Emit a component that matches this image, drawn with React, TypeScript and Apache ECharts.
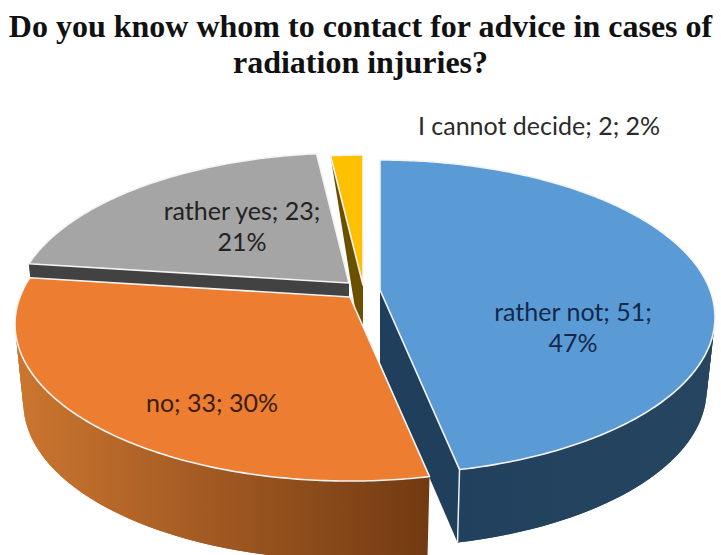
import React, { useEffect, useRef } from "react";
import * as echarts from "echarts";

const titleLines = ["Do you know whom to contact for advice in cases of", "radiation injuries?"];
const categories = ["rather not", "no", "rather yes", "I cannot decide"];
const values = [51, 33, 23, 2];

// Colours of each slice: top face and side walls.
const topColors = ["#5B9BD5", "#ED7D31", "#A5A5A5", "#FFC000"];
const wallColors = [
  ["#1F3F5C", "#254560"],
  ["#CC7630", "#723A12"],
  ["#424242", "#424242"],
  ["#6B5000", "#6B5000"],
];
const wallShadeSpan = [[380, 715], [15, 430], [0, 721], [0, 721]];
const labelColors = ["#13294A", "#3A1E0C", "#232323", "#2B2B2B"];

// Exploded apex of each slice, wall height and paint order (far slices first).
const apexes = [[380, 290], [350, 297], [349, 283], [363, 285]];
const wallDepths = [73, 79, 73, 73];
const paintOrder = [3, 4, 2, 1];
const labelAnchors = [[573, 326], [212, 402], [242, 225], [539, 125]];
const labelWrapped = [true, false, true, false];
const wallFromStart = [false, false, true, true];

// Perspective of the disc: A and B are its half-axes, K the foreshortening.
const A = 330;
const B = 152.4;
const K = 0.172;
const BASE_SHRINK = 0.975;
const FAR_DEPTH = 5;

const total = values.reduce((s, v) => s + v, 0);

function topPoint(apex: number[], theta: number) {
  const X = Math.sin(theta);
  const Y = -Math.cos(theta);
  const w = 1 - K * Y;
  return [apex[0] + (A * X) / w, apex[1] + (B * Y) / w, Y];
}

function depthAt(Y: number, full: number) {
  return FAR_DEPTH + (full - FAR_DEPTH) * Math.min(1, (Y + 1) / 0.8);
}

function basePoint(apex: number[], theta: number, full: number) {
  const p = topPoint(apex, theta);
  return [apex[0] + (p[0] - apex[0]) * BASE_SHRINK, p[1] + depthAt(p[2], full)];
}

function arcAngles(a0: number, a1: number, step: number) {
  const n = Math.max(4, Math.ceil((a1 - a0) / step));
  const out: number[] = [];
  for (let i = 0; i <= n; i++) out.push(a0 + ((a1 - a0) * i) / n);
  return out;
}

function renderSlice(params: any, api: any) {
  const i = params.dataIndex;
  const value = api.value(0);
  const before = values.slice(0, i).reduce((s, v) => s + v, 0);
  const a0 = (before / total) * Math.PI * 2;
  const a1 = a0 + (value / total) * Math.PI * 2;
  const apex = apexes[i];
  const full = wallDepths[i];
  const layer = paintOrder[i] * 10;
  const children: any[] = [];

  // Curved outer wall: overlapping facets so its silhouette stays tangent.
  const wallFill = new echarts.graphic.LinearGradient(
    wallShadeSpan[i][0], 0, wallShadeSpan[i][1], 0,
    [
      { offset: 0, color: wallColors[i][0] },
      { offset: 1, color: wallColors[i][1] },
    ],
    true,
  );
  const wallAngles = arcAngles(a0, a1, 0.03);
  for (let k = 0; k + 1 < wallAngles.length; k++) {
    const t0 = wallAngles[k];
    const t1 = wallAngles[Math.min(k + 2, wallAngles.length - 1)];
    children.push({
      type: "polygon",
      z2: layer,
      shape: {
        points: [
          topPoint(apex, t0).slice(0, 2),
          topPoint(apex, t1).slice(0, 2),
          basePoint(apex, t1, full),
          basePoint(apex, t0, full),
        ],
      },
      style: { fill: wallFill },
    });
  }

  // Flat wall along the cut edge that faces the viewer.
  const edgeAngle = wallFromStart[i] ? a0 : a1;
  if (i === 0 || wallFromStart[i]) {
    const outerTop = topPoint(apex, edgeAngle).slice(0, 2);
    const outerBase = basePoint(apex, edgeAngle, full);
    const apexBase = [apex[0], apex[1] + depthAt(0, full)];
    children.push({
      type: "polygon",
      z2: layer + 1,
      shape: { points: [apex, outerTop, outerBase, apexBase] },
      style: { fill: wallColors[i][0] },
    });
    if (i === 0) {
      children.push({
        type: "polyline",
        z2: layer + 2,
        shape: { points: [outerTop, outerBase] },
        style: { stroke: "#EAF0F5", lineWidth: 1.5, fill: "none" },
      });
    }
  }

  // Top face with its light outline.
  const topArc = arcAngles(a0, a1, 0.012).map((t) => topPoint(apex, t).slice(0, 2));
  children.push({
    type: "polygon",
    z2: layer + 3,
    shape: { points: [apex, ...topArc] },
    style: { fill: topColors[i], stroke: "#F4F4F4", lineWidth: 1.6, lineJoin: "round" },
  });

  const pct = Math.round((value / total) * 100);
  const head = `${categories[i]}; ${value};`;
  children.push({
    type: "text",
    z2: 100,
    x: labelAnchors[i][0],
    y: labelAnchors[i][1],
    style: {
      text: labelWrapped[i] ? `${head}\n${pct}%` : `${head} ${pct}%`,
      fill: labelColors[i],
      font: '25px Lato, "Open Sans", sans-serif',
      lineHeight: 31,
      align: "center",
      verticalAlign: "middle",
    },
  });

  return { type: "group", children };
}

export default function App() {
  const ref = useRef<HTMLDivElement>(null);

  useEffect(() => {
    document.body.style.margin = "0";
    const chart = echarts.init(ref.current!, null, { renderer: "svg" });
    chart.setOption({
      animation: false,
      backgroundColor: "#FFFFFF",
      title: {
        text: titleLines.join("\n"),
        left: "center",
        top: 3,
        textStyle: {
          fontFamily: '"Liberation Serif", serif',
          fontWeight: "bold",
          fontSize: 32,
          lineHeight: 36,
          color: "#111111",
        },
      },
      series: [
        {
          type: "custom",
          coordinateSystem: "none",
          clip: false,
          renderItem: renderSlice,
          data: values.map((v) => [v]),
        },
      ],
    });
    return () => chart.dispose();
  }, []);

  return <div ref={ref} style={{ width: 721, height: 555 }} />;
}
